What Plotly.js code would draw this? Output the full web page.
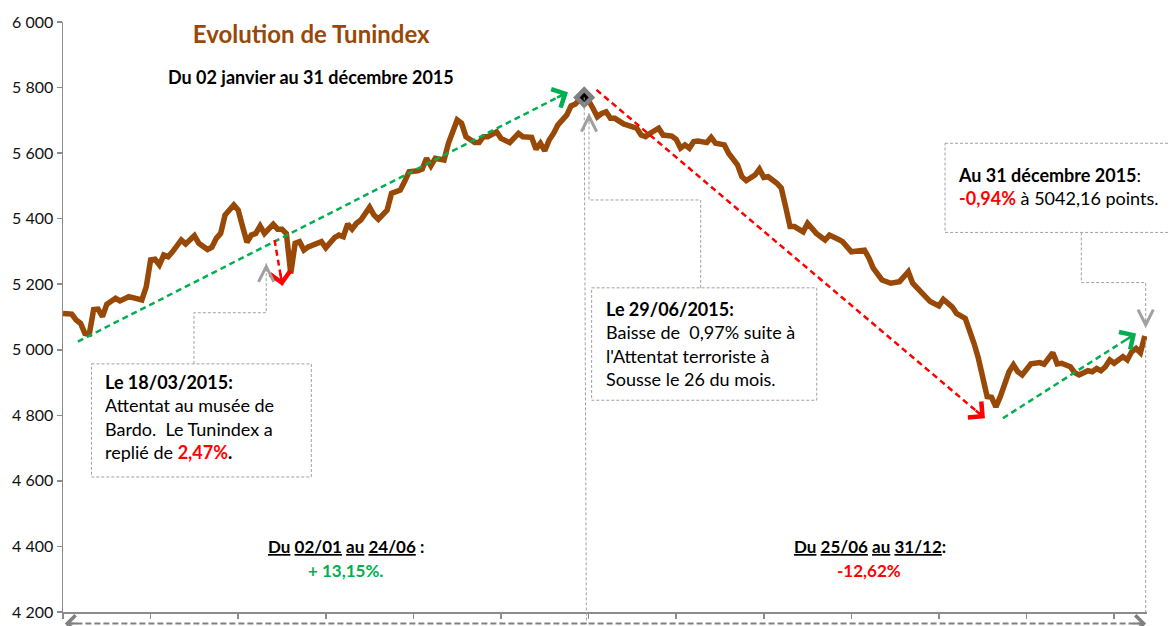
<!DOCTYPE html>
<html>
<head>
<meta charset="utf-8">
<script src="https://cdn.plot.ly/plotly-3.0.1.min.js"></script>
<style>
  body { margin: 0; background: #fff; }
  #graphe { width: 1170px; height: 626px; }
</style>
</head>
<body>
<div id="graphe"></div>
<script>
// Tunindex 2015, séance par séance (lecture du graphique)
var seance = [0,2,3,4,5,6,7,8,9,10,12,13,15,18,19,20,21,22,23,24,25,27,28,30,31,33,34,35,36,37,
  39,40,41,42,43,44,45,46,48,49,50,51,52,53,54,55,56,57,59,60,62,63,64,65,66,67,68,70,71,72,
  74,75,77,78,79,81,82,83,84,85,87,88,89,90,91,92,94,95,96,97,99,100,102,104,105,107,108,109,110,111,
  112,113,115,116,117,118,119,120,121,122,123,124,125,126,128,129,131,132,133,134,136,137,139,140,
  141,142,143,144,145,147,148,149,151,152,154,155,156,158,159,160,161,163,164,165,166,167,169,170,
  172,174,175,177,178,180,183,184,185,187,189,191,193,194,196,198,200,201,203,204,206,207,208,209,
  210,211,212,213,214,215,216,217,218,219,220,221,223,224,226,227,228,230,231,232,234,235,236,237,
  238,239,240,242,243,244,245,246,247];
var tunindex = [5111,5109,5091,5081,5050,5048,5123,5124,5101,5139,5157,5149,5162,5152,5192,5274,5276,5259,5289,5284,5299,5335,5323,5348,5325,5306,5313,5340,5355,5411,
  5442,5426,5376,5328,5350,5355,5378,5355,5383,5368,5368,5355,5233,5325,5330,5304,5314,5320,5330,5311,5342,5350,5345,5384,5368,5386,5396,5435,5411,5398,
  5426,5477,5487,5513,5543,5546,5551,5584,5561,5584,5579,5630,5665,5701,5691,5650,5632,5632,5650,5650,5665,5645,5632,5660,5650,5648,5612,5630,5607,5640,
  5660,5686,5716,5744,5750,5764,5770,5760,5737,5711,5721,5726,5706,5706,5689,5686,5676,5655,5650,5660,5676,5655,5652,5642,
  5615,5625,5615,5635,5637,5632,5648,5630,5625,5599,5564,5528,5516,5533,5551,5526,5528,5508,5493,5436,5376,5376,5360,5386,
  5355,5335,5350,5337,5330,5299,5304,5280,5249,5213,5203,5208,5238,5203,5177,5147,5134,5154,5131,5111,5096,5060,5020,4974,
  4908,4857,4855,4826,4857,4898,4933,4954,4933,4923,4940,4957,4961,4956,4991,4957,4959,4948,4930,4923,4936,4933,4943,4936,
  4948,4969,4959,4979,4969,4994,5004,4991,5042.16];

var brun = '#984807', rouge = '#FF0000', vert = '#00B050', gris = '#8C8C8C';
var police = 'Lato, Calibri, sans-serif';

var iPic = tunindex.indexOf(Math.max.apply(null, tunindex));
var xPic = seance[iPic], yPic = tunindex[iPic];

var trace1 = {
  x: seance, y: tunindex,
  mode: 'lines', type: 'scatter',
  line: {color: brun, width: 5.5},
  hoverinfo: 'x+y'
};
var trace2 = {
  x: [xPic], y: [yPic],
  mode: 'markers', type: 'scatter',
  marker: {symbol: 'diamond', size: 17, color: '#808080'}
};
var trace3 = {
  x: [xPic], y: [yPic],
  mode: 'markers', type: 'scatter',
  marker: {symbol: 'diamond', size: 7, color: '#000'}
};

var shapes = [], annotations = [];
var pxX = 1084 / 247.5, pxY = 590 / 1800;

// flèche en tirets : trait (shape) + pointe (annotation)
function fleche(pts, couleur, largeur, tirets, yref, taille, tige, pointe) {
  yref = yref || 'y';
  var sy = yref === 'paper' ? 590 : pxY;
  var d = 'M' + pts.map(function (p) { return p[0] + ',' + p[1]; }).join('L');
  shapes.push({type: 'path', xref: 'x', yref: yref, path: d,
    line: {color: couleur, width: largeur, dash: tirets}});
  var a = pts[pts.length - 2], b = pts[pts.length - 1];
  var dx = (a[0] - b[0]) * pxX, dy = -(a[1] - b[1]) * sy;
  var n = Math.sqrt(dx * dx + dy * dy);
  tige = tige || 14;
  annotations.push({x: b[0], y: b[1], xref: 'x', yref: yref, axref: 'pixel', ayref: 'pixel',
    ax: dx / n * tige, ay: dy / n * tige, text: '', showarrow: true,
    arrowhead: pointe || 4, arrowsize: taille || 1.6, arrowwidth: largeur, arrowcolor: couleur});
}

function cadre(x0, x1, y0, y1, xref) {
  shapes.push({type: 'rect', xref: xref || 'x', yref: 'y', x0: x0, x1: x1, y0: y0, y1: y1,
    line: {color: '#A0A0A0', width: 1, dash: '3px,2px'}});
}

// tendances
fleche([[3.4, 5025], [115.3, 5786]], vert, 2.5, '6px,4px');
fleche([[121.8, 5793], [210.5, 4791]], rouge, 2.5, '6px,4px');
fleche([[214.6, 4791], [245.0, 5050]], vert, 2.5, '6px,4px');
fleche([[48.3, 5335], [50.1, 5195]], rouge, 2.5, '6px,4px');

// renvois des encadrés
fleche([[29.9, 4957], [29.9, 5113], [46.4, 5113], [46.4, 5264]], '#A0A0A0', 1, '3px,2px', 'y', 3, 10, 5);
fleche([[145.6, 5189], [145.6, 5457], [120.1, 5457], [120.1, 5722]], '#A0A0A0', 1, '3px,2px', 'y', 3, 10, 5);
fleche([[232.5, 5358], [232.5, 5205], [247.2, 5205], [247.2, 5066]], '#A0A0A0', 1, '3px,2px', 'y', 3, 10, 5);

// repères verticaux
shapes.push({type: 'line', xref: 'x', yref: 'paper', x0: xPic, x1: xPic + 0.5,
  y0: (yPic - 4200) / 1800, y1: -0.02, line: {color: '#A0A0A0', width: 1, dash: '3px,2px'}});
shapes.push({type: 'line', xref: 'x', yref: 'y', x0: 247.2, x1: 247.2, y0: 5030, y1: 4200,
  line: {color: '#A0A0A0', width: 1, dash: '3px,2px'}});

// périodes sous l'axe
fleche([[119.5, -0.0195], [0.4, -0.0195]], '#808080', 2, '6px,3px', 'paper', 1.6);
fleche([[120, -0.0195], [247.3, -0.0195]], '#808080', 2, '6px,3px', 'paper', 1.6);

// encadrés
cadre(6.5, 56.7, 4957, 4612);
cadre(120.7, 172.1, 5189, 4846);
cadre(0.8137, 1.03, 5630, 5358, 'paper');

var u = function (t) { return '<span style="text-decoration:underline">' + t + '</span>'; };

annotations.push(
  {xref: 'paper', yref: 'paper', x: 0.229, y: 0.907, xanchor: 'center', yanchor: 'middle', showarrow: false,
   text: '<b>Du 02 janvier au 31 décembre 2015</b>', font: {family: police, size: 18, color: '#000'}},
  {xref: 'x', yref: 'y', x: 9.1, y: 4941, xanchor: 'left', yanchor: 'top', align: 'left', showarrow: false,
   text: '<b>Le 18/03/2015:</b><br>Attentat au musée de<br>Bardo.  Le Tunindex a<br>replié de <b><span style="color:' + rouge + '">2,47%</span>.</b>',
   font: {family: police, size: 18, color: '#000'}},
  {xref: 'x', yref: 'y', x: 123.5, y: 5164, xanchor: 'left', yanchor: 'top', align: 'left', showarrow: false,
   text: '<b>Le 29/06/2015:</b><br>Baisse de  0,97% suite à<br>l\'Attentat terroriste à<br>Sousse le 26 du mois.',
   font: {family: police, size: 18, color: '#000'}},
  {xref: 'x', yref: 'y', x: 203.9, y: 5573, xanchor: 'left', yanchor: 'top', align: 'left', showarrow: false,
   text: '<b>Au 31 décembre 2015</b>:<br><b><span style="color:' + rouge + '">-0,94%</span></b> à 5042,16 points.',
   font: {family: police, size: 18, color: '#000'}},
  {xref: 'x', yref: 'y', x: 64.5, y: 4401, showarrow: false,
   text: '<b>' + u('Du') + ' ' + u('02/01') + ' ' + u('au') + ' ' + u('24/06') + ' :</b>',
   font: {family: police, size: 17, color: '#000'}},
  {xref: 'x', yref: 'y', x: 64.5, y: 4328, showarrow: false,
   text: '<b>+ 13,15%.</b>', font: {family: police, size: 17, color: vert}},
  {xref: 'x', yref: 'y', x: 184.3, y: 4401, showarrow: false,
   text: '<b>' + u('Du') + ' ' + u('25/06') + ' ' + u('au') + ' ' + u('31/12') + ':</b>',
   font: {family: police, size: 17, color: '#000'}},
  {xref: 'x', yref: 'y', x: 184.1, y: 4328, showarrow: false,
   text: '<b>-12,62%</b>', font: {family: police, size: 17, color: rouge}}
);

var layout = {
  width: 1170, height: 626,
  margin: {l: 63, r: 23, t: 22, b: 14, pad: 0},
  paper_bgcolor: '#fff', plot_bgcolor: '#fff',
  showlegend: false,
  separators: ', ',
  title: {
    text: '<b>Evolution de Tunindex</b>',
    font: {family: police, size: 24, color: brun},
    xref: 'paper', x: 0.229, xanchor: 'center',
    yref: 'container', y: 0.944, yanchor: 'middle'
  },
  xaxis: {
    range: [0, 247.5], showgrid: false, zeroline: false,
    showline: true, linecolor: gris, linewidth: 1.5,
    ticks: 'outside', ticklen: 5, tickcolor: gris, tickwidth: 1.5,
    tick0: 0, dtick: 20, showticklabels: false
  },
  yaxis: {
    range: [4200, 6000], dtick: 200, tickformat: ',d',
    showgrid: false, zeroline: false,
    showline: true, linecolor: gris, linewidth: 1.5,
    ticks: 'outside', ticklen: 5, tickcolor: gris, tickwidth: 1.5,
    tickfont: {family: police, size: 16, color: '#111'}
  },
  shapes: shapes,
  annotations: annotations
};

Plotly.newPlot('graphe', [trace1, trace2, trace3], layout, {displayModeBar: false, staticPlot: true});
</script>
</body>
</html>
